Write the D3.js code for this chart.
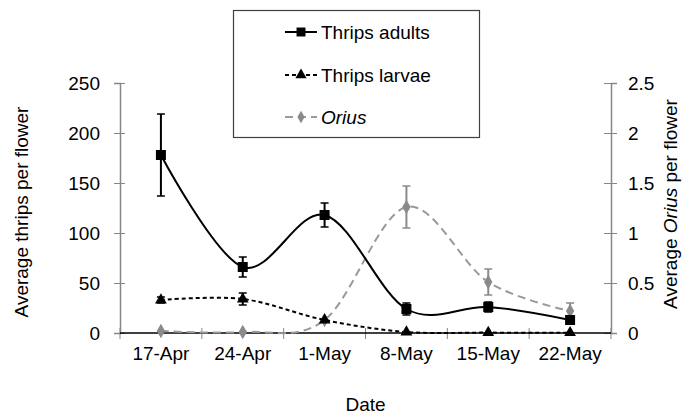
<!DOCTYPE html>
<html><head><meta charset="utf-8">
<script src="https://cdn.jsdelivr.net/npm/d3@7"></script>
<style>body{margin:0;background:#fff}svg{display:block}text{font-family:"Liberation Sans",Arial,sans-serif}</style>
</head><body><svg id="c" width="697" height="416"></svg>
<script>
const categories = ["17-Apr","24-Apr","1-May","8-May","15-May","22-May"];
const adults = [178, 66, 118, 24, 26, 13];
const adultsErr = [41, 10, 12, 6, 5, 3];
const larvae = [33, 34, 13, 1, 0.4, 0.3];
const larvaeErr = [3, 6, 0, 0, 0, 0];
const orius = [0.02, 0.01, 0.13, 1.26, 0.51, 0.22];
const oriusErr = [0, 0, 0, 0.21, 0.13, 0.08];
const leftTicks = [0, 50, 100, 150, 200, 250];
const rightTicks = [0, 0.5, 1, 1.5, 2, 2.5];

const svg = d3.select("#c");
const L = 120, R = 611, T = 83, B = 333;
const x = d3.scaleBand().domain(categories).range([L, R]).padding(0);
const yL = d3.scaleLinear().domain([0, 250]).range([B, T]);
const yR = d3.scaleLinear().domain([0, 2.5]).range([B, T]);
const cx = d => x(d) + x.bandwidth() / 2;
const FS = 19;
const FF = "Liberation Sans, Arial, sans-serif";

// left axis
const gl = svg.append("g").attr("transform", `translate(${L},0)`)
  .call(d3.axisLeft(yL).tickValues(leftTicks).tickSize(6).tickPadding(14).tickFormat(d3.format("d")));
gl.select(".domain").attr("stroke", "#868686").attr("stroke-width", 1.5);
gl.selectAll(".tick line").attr("stroke", "#868686").attr("x1", 5).attr("x2", -6);
gl.selectAll(".tick text").attr("font-size", FS).attr("fill", "#000").attr("font-family", FF);

// right axis
const gr = svg.append("g").attr("transform", `translate(${R},0)`)
  .call(d3.axisRight(yR).tickValues(rightTicks).tickSize(6).tickPadding(11).tickFormat(d => String(d)));
gr.select(".domain").attr("stroke", "#868686").attr("stroke-width", 1.5);
gr.selectAll(".tick line").attr("stroke", "#868686").attr("x1", -7).attr("x2", 6);
gr.selectAll(".tick text").attr("font-size", FS).attr("fill", "#000").attr("font-family", FF);

// bottom axis
const gb = svg.append("g").attr("transform", `translate(0,${B})`)
  .call(d3.axisBottom(x).tickSize(0).tickPadding(14));
gb.select(".domain").remove();
gb.selectAll(".tick text").attr("font-size", FS).attr("fill", "#000").attr("font-family", FF);
const bounds = categories.map(c => x(c)).concat([x(categories[categories.length - 1]) + x.bandwidth()]);
svg.append("g").selectAll("line").data(bounds).join("line")
  .attr("x1", d => d).attr("x2", d => d).attr("y1", B - 5).attr("y2", B + 6)
  .attr("stroke", "#868686").attr("stroke-width", 1);
svg.append("line").attr("x1", L).attr("x2", R).attr("y1", B).attr("y2", B).attr("stroke", "#000").attr("stroke-width", 1.5);

// axis titles
svg.append("text").attr("x", (L + R) / 2).attr("y", 411).attr("text-anchor", "middle").attr("font-size", FS).text("Date");
svg.append("text").attr("transform", `translate(28,${(T + B) / 2 + 4}) rotate(-90)`).attr("text-anchor", "middle").attr("font-size", FS).text("Average thrips per flower");
const rt = svg.append("text").attr("transform", `translate(677,${(T + B) / 2 - 4}) rotate(-90)`).attr("text-anchor", "middle").attr("font-size", FS);
rt.append("tspan").text("Average ");
rt.append("tspan").attr("font-style", "italic").text("Orius");
rt.append("tspan").text(" per flower");

const curve = d3.curveCardinal.tension(0);
function series(vals, errs, y, opts) {
  const g = svg.append("g");
  const line = d3.line().x((d, i) => cx(categories[i])).y(d => y(d)).curve(curve);
  g.append("path").attr("d", line(vals)).attr("fill", "none").attr("stroke", opts.lineColor)
    .attr("stroke-width", 2).attr("stroke-dasharray", opts.dash || null);
  vals.forEach((v, i) => {
    const e = errs[i]; if (!e) return;
    const X = cx(categories[i]);
    g.append("line").attr("x1", X).attr("x2", X).attr("y1", y(v + e)).attr("y2", y(v - e)).attr("stroke", opts.errColor).attr("stroke-width", 2);
    [v + e, v - e].forEach(w => g.append("line").attr("x1", X - 4).attr("x2", X + 4).attr("y1", y(w)).attr("y2", y(w)).attr("stroke", opts.errColor).attr("stroke-width", 1.5));
  });
  g.selectAll("path.m").data(vals).join("path").attr("class", "m")
    .attr("transform", (d, i) => `translate(${cx(categories[i])},${y(d)})`)
    .attr("d", d3.symbol().type(opts.symbol).size(opts.size)())
    .attr("fill", opts.markColor);
}

series(orius, oriusErr, yR, {lineColor: "#999999", dash: "8,5", errColor: "#8a8a8a", symbol: d3.symbolDiamond, size: 60, markColor: "#8a8a8a"});
series(larvae, larvaeErr, yL, {lineColor: "#000", dash: "4,3", errColor: "#000", symbol: d3.symbolTriangle, size: 60, markColor: "#000"});
series(adults, adultsErr, yL, {lineColor: "#000", dash: null, errColor: "#000", symbol: d3.symbolSquare, size: 100, markColor: "#000"});

// legend
const lg = svg.append("g");
lg.append("rect").attr("x", 233.5).attr("y", 10.5).attr("width", 246).attr("height", 127).attr("fill", "#fff").attr("stroke", "#404040").attr("stroke-width", 1.2);
const items = [
  {name: "Thrips adults", italic: false, color: "#000", dash: null, symbol: d3.symbolSquare, size: 80, mc: "#000", y: 32},
  {name: "Thrips larvae", italic: false, color: "#000", dash: "4,3", symbol: d3.symbolTriangle, size: 55, mc: "#000", y: 75},
  {name: "Orius", italic: true, color: "#999999", dash: "8,5", symbol: d3.symbolDiamond, size: 45, mc: "#8a8a8a", y: 117}
];
items.forEach(it => {
  lg.append("line").attr("x1", 285).attr("x2", 317).attr("y1", it.y).attr("y2", it.y).attr("stroke", it.color).attr("stroke-width", 2).attr("stroke-dasharray", it.dash);
  lg.append("path").attr("transform", `translate(301,${it.y})`).attr("d", d3.symbol().type(it.symbol).size(it.size)()).attr("fill", it.mc);
  lg.append("text").attr("x", 321).attr("y", it.y + 7).attr("font-size", FS).attr("font-style", it.italic ? "italic" : null).text(it.name);
});
</script></body></html>
